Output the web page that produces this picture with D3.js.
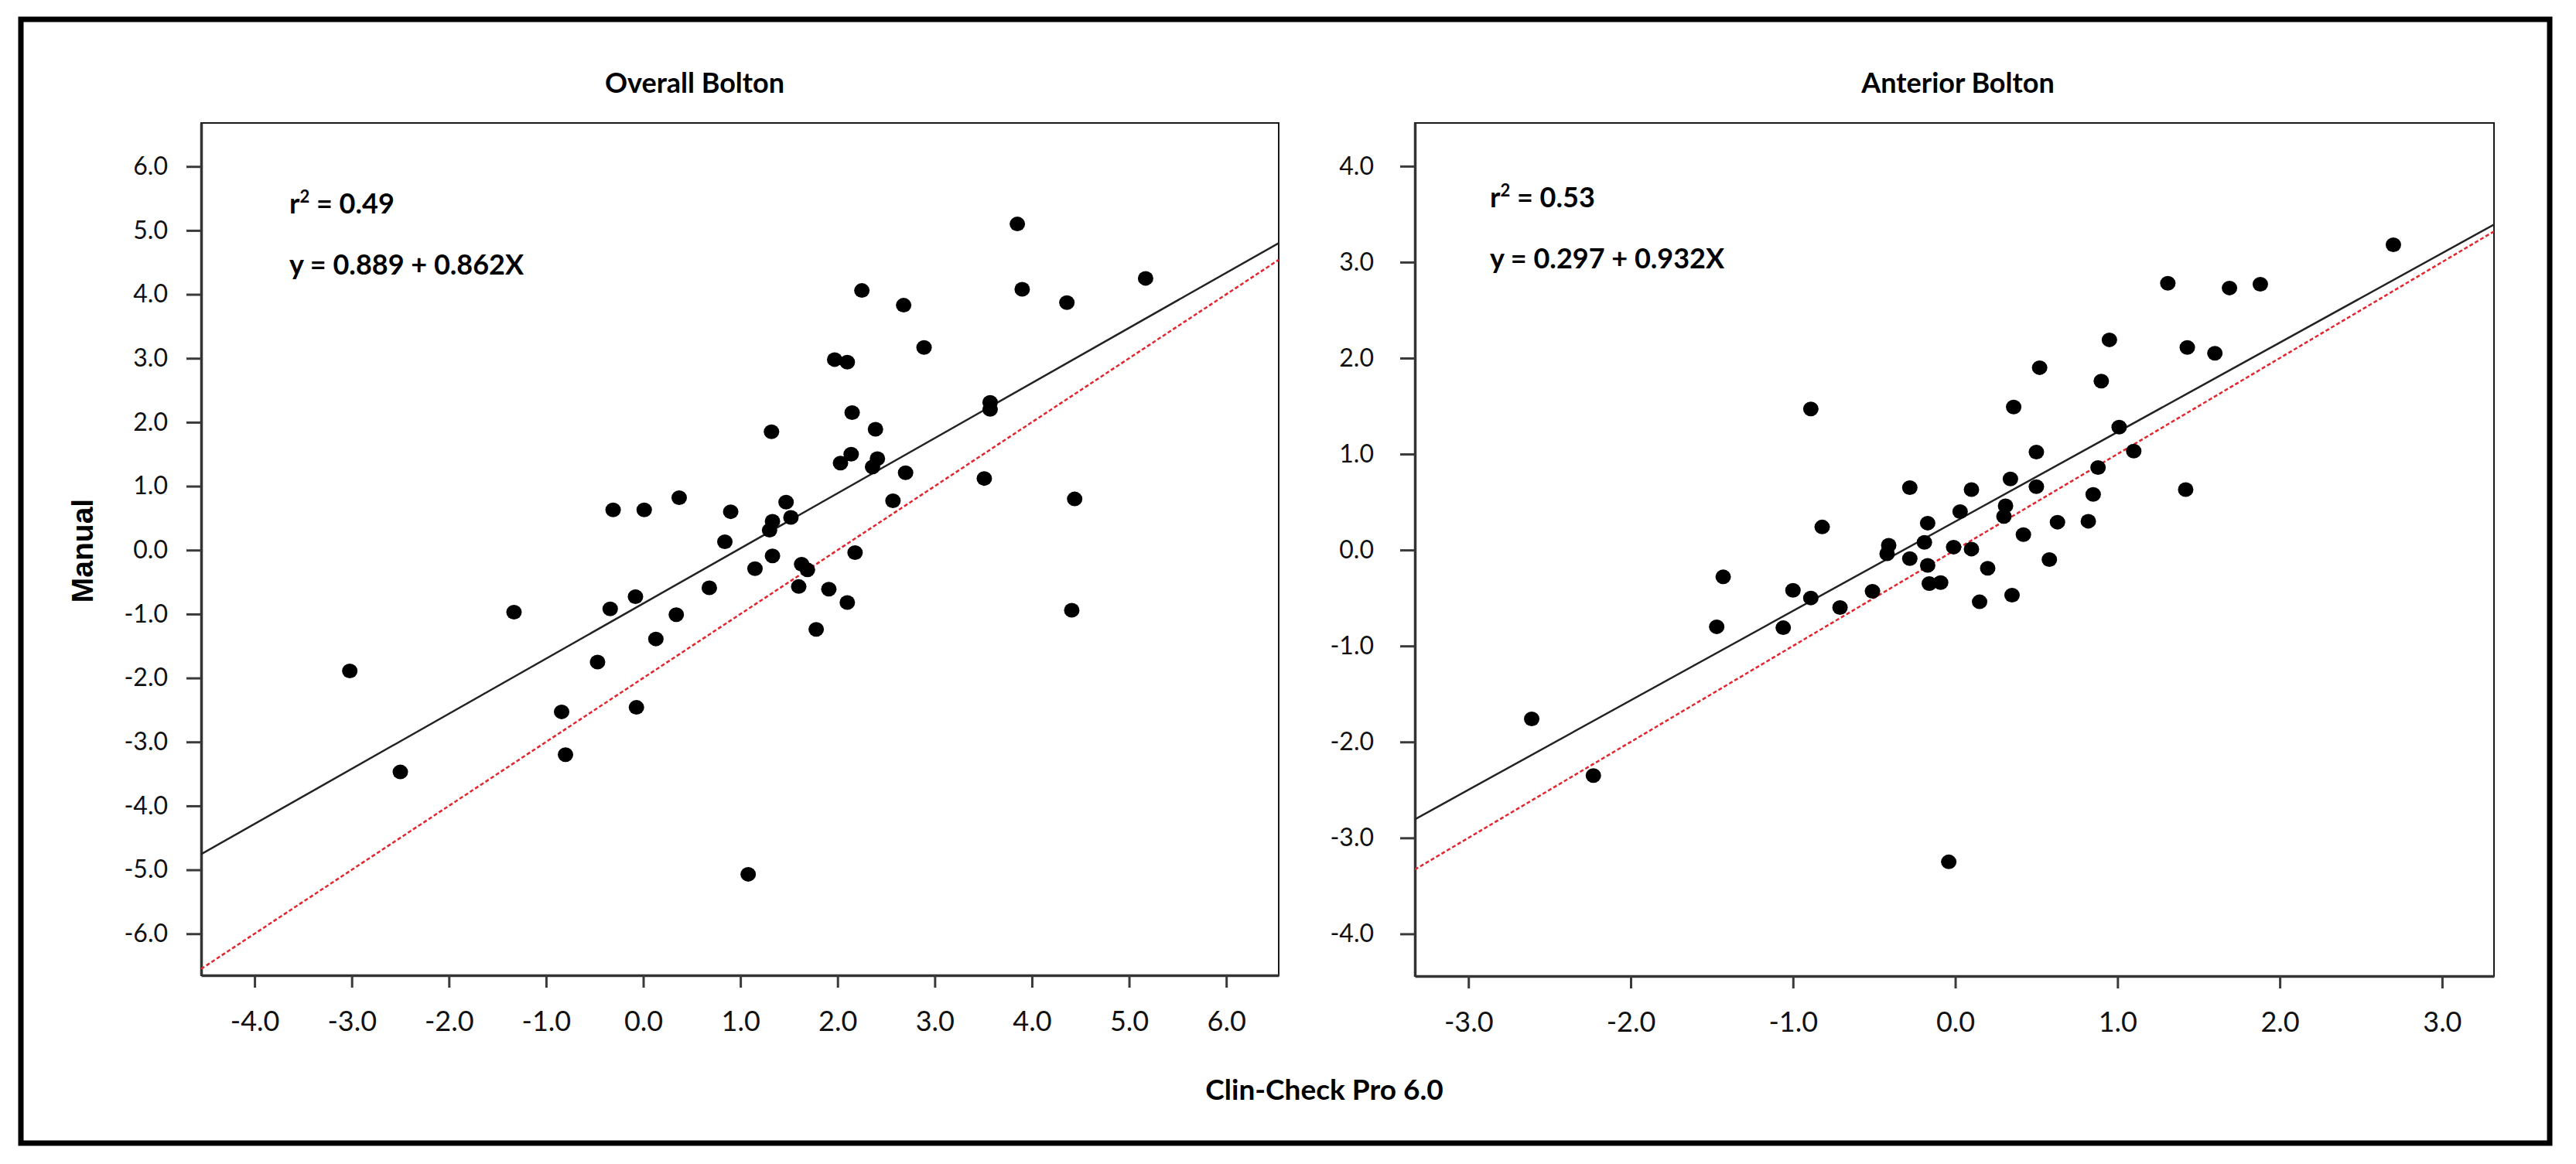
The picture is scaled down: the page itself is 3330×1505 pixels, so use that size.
<!DOCTYPE html>
<html>
<head>
<meta charset="utf-8">
<script src="https://cdn.jsdelivr.net/npm/d3@7"></script>
<style>
  body { margin: 0; background: #fff; }
  svg { display: block; }
</style>
</head>
<body>
<script>
// Overall Bolton: Clin-Check Pro 6.0 (x) vs Manual (y)
const overallClin = [
    3.85, 5.17, 3.90, 4.36, 2.25, 2.68, 2.89, 1.97, 2.10, 3.57,
    3.57, 2.15, 1.32, 2.39, 2.14, 2.03, 2.41, 2.36, 2.70, 3.51,
    4.44, 2.57, 0.37, -0.31, 0.01, 0.90, 1.47, 1.52, 1.33, 1.30,
    0.84, 1.33, 2.18, 1.15, 1.63, 1.69, 1.60, 1.91, 2.10, 1.78,
    0.68, -0.08, -0.34, 0.34, -1.33, 0.13, -0.47, -3.02, -0.84, -0.07,
    -0.80, -2.50, 1.08, 4.41
];
const overallManual = [
    5.10, 4.25, 4.08, 3.87, 4.06, 3.83, 3.17, 2.98, 2.94, 2.31,
    2.20, 2.15, 1.85, 1.89, 1.50, 1.36, 1.43, 1.30, 1.21, 1.12,
    0.80, 0.77, 0.82, 0.63, 0.63, 0.60, 0.75, 0.51, 0.45, 0.31,
    0.13, -0.09, -0.04, -0.29, -0.22, -0.31, -0.57, -0.61, -0.82, -1.24,
    -0.59, -0.73, -0.92, -1.01, -0.97, -1.39, -1.75, -1.89, -2.53, -2.46,
    -3.20, -3.47, -5.07, -0.94
];

// Anterior Bolton
const anteriorClin = [
    2.70, 1.31, 1.69, 1.88, 0.95, 1.43, 1.60, 0.52, 0.90, -0.89,
    0.36, 1.01, 1.10, 0.50, 0.88, 0.34, -0.28, 0.10, 0.50, 1.42,
    0.85, 0.31, 0.30, 0.03, -0.17, 0.42, 0.63, 0.82, -0.82, -0.41,
    -0.42, -0.19, -0.01, 0.10, -0.28, -0.17, 0.20, 0.58, -0.16, -0.09,
    0.15, 0.35, -1.43, -1.00, -0.89, -0.71, -0.51, -1.47, -1.06, -2.61,
    -2.23, -0.04
];
const anteriorManual = [
    3.18, 2.78, 2.73, 2.77, 2.19, 2.11, 2.05, 1.90, 1.76, 1.47,
    1.49, 1.28, 1.03, 1.02, 0.86, 0.74, 0.65, 0.63, 0.66, 0.63,
    0.58, 0.46, 0.35, 0.40, 0.28, 0.16, 0.29, 0.30, 0.24, 0.05,
    -0.04, 0.08, 0.03, 0.01, -0.09, -0.16, -0.19, -0.10, -0.35, -0.34,
    -0.54, -0.47, -0.28, -0.42, -0.50, -0.60, -0.43, -0.80, -0.81, -1.76,
    -2.35, -3.25
];

// lines as drawn: [intercept, slope] in the plotted axis units
const overallFit = [-0.835, 0.862];
const overallRef = [-2.0, 1.0];
const anteriorFit = [0.297, 0.932];
const anteriorRef = [0.0, 1.0];

const overallXTicks = [-4, -3, -2, -1, 0, 1, 2, 3, 4, 5, 6];
const overallYTicks = [-6, -5, -4, -3, -2, -1, 0, 1, 2, 3, 4, 5, 6];
const anteriorXTicks = [-3, -2, -1, 0, 1, 2, 3];
const anteriorYTicks = [-4, -3, -2, -1, 0, 1, 2, 3, 4];

const overallR2 = "0.49";
const overallEq = "y = 0.889 + 0.862X";
const anteriorR2 = "0.53";
const anteriorEq = "y = 0.297 + 0.932X";

const width = 3330;
const height = 1505;
const font = "Lato, 'Open Sans', sans-serif";

const svg = d3.select("body")
    .append("svg")
    .attr("width", width)
    .attr("height", height);

svg.append("rect")
    .attr("x", 27)
    .attr("y", 25)
    .attr("width", 3296 - 27)
    .attr("height", 1478 - 25)
    .attr("fill", "none")
    .attr("stroke", "#000")
    .attr("stroke-width", 7);

const panels = [
    {
        id: "overall", title: "Overall Bolton",
        clin: overallClin, manual: overallManual,
        fit: overallFit, ref: overallRef,
        r2: overallR2, eq: overallEq,
        xTicks: overallXTicks, yTicks: overallYTicks,
        xDomain: [-4.55, 6.54], yDomain: [-6.65, 6.68],
        box: { left: 260, right: 1653, top: 159, bottom: 1261 },
        yPad: 24, titleX: 898, textX: 374, r2Y: 276, eqY: 355
    },
    {
        id: "anterior", title: "Anterior Bolton",
        clin: anteriorClin, manual: anteriorManual,
        fit: anteriorFit, ref: anteriorRef,
        r2: anteriorR2, eq: anteriorEq,
        xTicks: anteriorXTicks, yTicks: anteriorYTicks,
        xDomain: [-3.33, 3.32], yDomain: [-4.44, 4.45],
        box: { left: 1829, right: 3224, top: 159, bottom: 1262 },
        yPad: 34, titleX: 2531, textX: 1926, r2Y: 268, eqY: 347
    }
];

function DrawPanel(p) {
    const x = d3.scaleLinear().domain(p.xDomain).range([p.box.left, p.box.right]);
    const y = d3.scaleLinear().domain(p.yDomain).range([p.box.bottom, p.box.top]);

    const g = svg.append("g");

    g.append("clipPath")
        .attr("id", "clip-" + p.id)
        .append("rect")
        .attr("x", p.box.left)
        .attr("y", p.box.top)
        .attr("width", p.box.right - p.box.left)
        .attr("height", p.box.bottom - p.box.top);

    // frame
    g.append("rect")
        .attr("x", p.box.left)
        .attr("y", p.box.top)
        .attr("width", p.box.right - p.box.left)
        .attr("height", p.box.bottom - p.box.top)
        .attr("fill", "none")
        .attr("stroke", "#1a1a1a")
        .attr("stroke-width", 2);

    const yAxis = g.append("g")
        .attr("transform", `translate(${p.box.left},0)`)
        .call(d3.axisLeft(y)
            .tickValues(p.yTicks)
            .tickSize(19)
            .tickSizeOuter(0)
            .tickPadding(p.yPad)
            .tickFormat(d => d.toFixed(1)));

    const xAxis = g.append("g")
        .attr("transform", `translate(0,${p.box.bottom})`)
        .call(d3.axisBottom(x)
            .tickValues(p.xTicks)
            .tickSize(16)
            .tickSizeOuter(0)
            .tickPadding(30)
            .tickFormat(d => d.toFixed(1)));

    [yAxis, xAxis].forEach(a => {
        a.select(".domain").attr("stroke", "#333").attr("stroke-width", 3.5);
        a.selectAll(".tick line").attr("stroke", "#3a3a3a").attr("stroke-width", 3);
        a.selectAll(".tick text")
            .attr("fill", "#111")
            .attr("font-family", font);
    });
    yAxis.selectAll(".tick text").attr("font-size", 32);
    xAxis.selectAll(".tick text").attr("font-size", 36);

    const plot = g.append("g").attr("clip-path", `url(#clip-${p.id})`);

    const line = d3.line().x(d => x(d[0])).y(d => y(d[1]));

    plot.append("path")
        .datum(p.xDomain.map(v => [v, p.ref[0] + p.ref[1] * v]))
        .attr("d", line)
        .attr("fill", "none")
        .attr("stroke", "#e3262e")
        .attr("stroke-width", 2.5)
        .attr("stroke-dasharray", "5,3");

    plot.append("path")
        .datum(p.xDomain.map(v => [v, p.fit[0] + p.fit[1] * v]))
        .attr("d", line)
        .attr("fill", "none")
        .attr("stroke", "#222")
        .attr("stroke-width", 2.5);

    plot.selectAll("ellipse")
        .data(d3.range(p.clin.length))
        .join("ellipse")
        .attr("cx", i => x(p.clin[i]))
        .attr("cy", i => y(p.manual[i]))
        .attr("rx", 10)
        .attr("ry", 9.5)
        .attr("fill", "#000");

    g.append("text")
        .attr("x", p.titleX)
        .attr("y", 120)
        .attr("text-anchor", "middle")
        .attr("font-family", font)
        .attr("font-weight", "bold")
        .attr("font-size", 36)
        .text(p.title);

    const r2 = g.append("text")
        .attr("x", p.textX)
        .attr("y", p.r2Y)
        .attr("font-family", font)
        .attr("font-weight", "bold")
        .attr("font-size", 36);
    r2.append("tspan").text("r");
    r2.append("tspan").attr("dy", -14).attr("font-size", 22).text("2");
    r2.append("tspan").attr("dy", 14).text(" = " + p.r2);

    g.append("text")
        .attr("x", p.textX)
        .attr("y", p.eqY)
        .attr("font-family", font)
        .attr("font-weight", "bold")
        .attr("font-size", 36)
        .text(p.eq);
}

panels.forEach(DrawPanel);

svg.append("text")
    .attr("transform", "translate(120,712) rotate(-90)")
    .attr("text-anchor", "middle")
    .attr("font-family", "'Liberation Sans', Arial, sans-serif")
    .attr("font-weight", "bold")
    .attr("font-size", 39)
    .text("Manual");

svg.append("text")
    .attr("x", 1712)
    .attr("y", 1422)
    .attr("text-anchor", "middle")
    .attr("font-family", font)
    .attr("font-weight", "bold")
    .attr("font-size", 37)
    .text("Clin-Check Pro 6.0");
</script>
</body>
</html>
